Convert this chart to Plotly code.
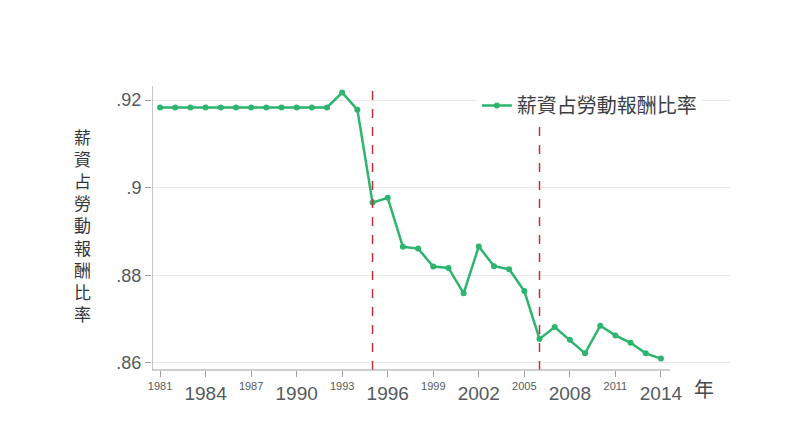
import plotly.graph_objects as go

years = list(range(1981, 2015))
ratio = [0.9183, 0.9183, 0.9183, 0.9183, 0.9183, 0.9183, 0.9183, 0.9183,
         0.9183, 0.9183, 0.9183, 0.9183, 0.9217, 0.9178, 0.8966, 0.8977,
         0.8865, 0.8861, 0.8820, 0.8817, 0.8759, 0.8866, 0.8821, 0.8814,
         0.8764, 0.8655, 0.8682, 0.8653, 0.8622, 0.8685, 0.8663, 0.8646,
         0.8622, 0.8610]
big_ticks = [1984, 1990, 1996, 2002, 2008, 2014]
small_ticks = [1981, 1987, 1993, 1999, 2005, 2011]
y_ticks = [0.86, 0.88, 0.90, 0.92]
y_labels = [".86", ".88", ".9", ".92"]
break_years = [1995, 2006]
series_name = "薪資占勞動報酬比率"

font = "Liberation Sans, Noto Sans CJK TC"
green = "#2db46e"
gray = "#555a5e"

fig = go.Figure()
fig.add_trace(go.Scatter(x=years, y=ratio, mode="lines+markers", name=series_name,
                         line=dict(color=green, width=2.5),
                         marker=dict(color=green, size=6)))
# small labels on a second x axis
fig.add_trace(go.Scatter(x=[years[0]], y=[ratio[0]], xaxis="x2", showlegend=False,
                         mode="markers", marker=dict(opacity=0), hoverinfo="skip"))

for yr in break_years:
    fig.add_shape(type="line", x0=yr, x1=yr, y0=0, y1=1, yref="paper",
                  line=dict(color="#c0303a", width=1.5, dash="dash"))

# axis lines
fig.add_shape(type="line", x0=1980.47, x1=2014.6, y0=0, y1=0, yref="paper",
              line=dict(color="#9a9ea2", width=1.2))
fig.add_shape(type="line", x0=1980.47, x1=1980.47, y0=0, y1=1, yref="paper",
              line=dict(color="#9a9ea2", width=1.2))

xr = [1980.47, 2018.55]
fig.update_layout(
    width=800, height=445,
    margin=dict(l=144, r=78, t=78, b=83),
    plot_bgcolor="white", paper_bgcolor="white",
    font=dict(family=font, color=gray),
    xaxis=dict(range=xr, tickvals=big_ticks, ticks="outside", ticklen=6,
               tickcolor="#9a9ea2", showgrid=False, showline=False, zeroline=False,
               tickfont=dict(size=19, color=gray)),
    xaxis2=dict(range=xr, overlaying="x", side="bottom", tickvals=small_ticks,
                ticks="outside", ticklen=6, tickcolor="#9a9ea2", showgrid=False,
                showline=False, zeroline=False, tickfont=dict(size=11, color=gray)),
    yaxis=dict(range=[0.8584, 0.9232], tickvals=y_ticks, ticktext=y_labels,
               ticks="outside", ticklen=6, tickcolor="#9a9ea2", showline=False,
               gridcolor="#e6e8ea", zeroline=False,
               tickfont=dict(size=18, color=gray)),
    legend=dict(x=0.562, y=1.0, xanchor="left", yanchor="top", bgcolor="white",
                font=dict(size=20, color="#3c4044")),
    showlegend=True,
)

fig.add_annotation(text="<br>".join(series_name), x=-0.138, xref="paper", y=0.505,
                   yref="paper", showarrow=False,
                   font=dict(size=17, color="#33373b"))
fig.add_annotation(text="年", x=1.0, xref="paper", y=0, yref="paper", xanchor="right",
                   yanchor="top", yshift=-7, xshift=-14, showarrow=False,
                   font=dict(size=20, color="#44484c"))

fig.write_html("out.html")
